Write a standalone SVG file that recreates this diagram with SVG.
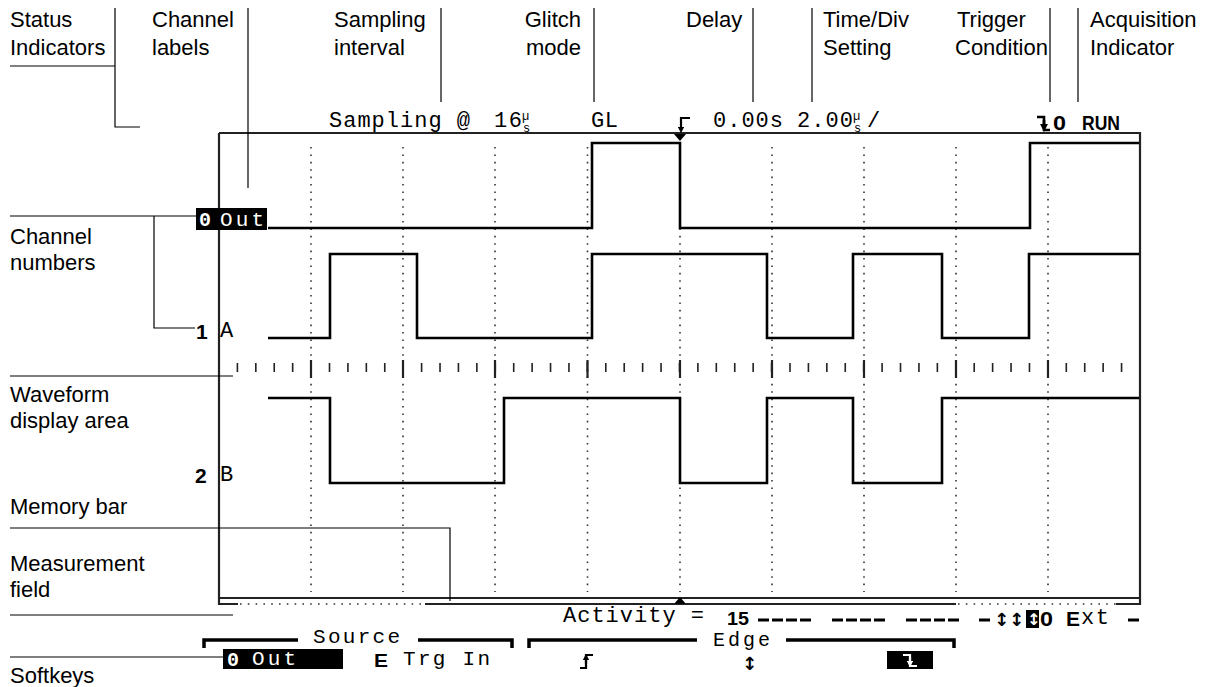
<svg xmlns="http://www.w3.org/2000/svg" width="1212" height="687" viewBox="0 0 1212 687">
<style>
.lbl{font-family:"Liberation Sans",Arial,sans-serif;font-size:22px;fill:#000}
.mono{font-family:"Liberation Mono","DejaVu Sans Mono",monospace;font-size:22px;fill:#000}
.sk{font-family:"Liberation Mono","DejaVu Sans Mono",monospace;font-size:21px;fill:#000}
.monow{font-family:"Liberation Mono","DejaVu Sans Mono",monospace;font-size:21px;fill:#fff}
.tiny{font-family:"Liberation Mono","DejaVu Sans Mono",monospace;font-size:12px;fill:#000}
.bold{font-family:"Liberation Sans",Arial,sans-serif;font-weight:bold;font-size:21px;fill:#000}
.boldw{font-family:"Liberation Mono","DejaVu Sans Mono",monospace;font-weight:bold;font-size:20px;fill:#fff}
.arr{font-family:"DejaVu Sans",sans-serif;font-weight:bold;font-size:18px;fill:#000}
.arrw{font-family:"DejaVu Sans",sans-serif;font-weight:bold;font-size:16px;fill:#fff}
.lead{stroke:#000;stroke-width:1.2;fill:none}
.grid{stroke:#333;stroke-width:1.6;stroke-dasharray:1.6 5.8;fill:none}
.wave{stroke:#000;stroke-width:2.6;fill:none}
.frame{stroke:#222;stroke-width:2.2;fill:none}
.minor{stroke:#222;stroke-width:9;stroke-dasharray:1.6 16.82;fill:none}
.major{stroke:#222;stroke-width:2.2;fill:none}
.brk{stroke:#000;stroke-width:3.5;fill:none}
.sym{stroke:#000;stroke-width:2.2;fill:none}
.wsym{stroke:#fff;stroke-width:2.2;fill:none}
.dash{stroke:#000;stroke-width:3;stroke-dasharray:11 3;fill:none}
</style>
<defs>
<marker id="ah" viewBox="0 0 10 10" refX="5" refY="5" markerWidth="3" markerHeight="3" orient="auto-start-reverse">
<path d="M0 0 L10 5 L0 10 Z" fill="#000"/>
</marker>
<marker id="ahw" viewBox="0 0 10 10" refX="5" refY="5" markerWidth="3" markerHeight="3" orient="auto-start-reverse">
<path d="M0 0 L10 5 L0 10 Z" fill="#fff"/>
</marker>
</defs>

<!-- Display frame, grid, axis -->
<g id="display">
<path class="frame" d="M219 133 H1140 V605 M219 133 V605 M219 598 H1140"/>
<path class="frame" d="M219 604 H238 M425 604 H956 M1116 604 H1140"/>
<path class="grid" d="M240 604 H425 M958 604 H1116" style="stroke-dasharray:1.6 6.2"/>
<path class="grid" d="M311 147 V592 M403 147 V592 M495 147 V592 M587.5 147 V592 M680 147 V592 M772 147 V592 M864 147 V592 M956 147 V592 M1048 147 V592"/>
<path class="minor" d="M236.6 367.5 H1124"/>
<path class="major" d="M311 360 V378 M403 360 V378 M495 360 V378 M587.5 360 V378 M680 360 V378 M772 360 V378 M864 360 V378 M956 360 V378 M1048 360 V378"/>
<polygon points="674,134 686,134 680,141" fill="#000"/>
<polygon points="674,604 686,604 680,597" fill="#000"/>
</g>

<!-- Waveforms -->
<g id="wave-out">
<path class="wave" d="M268 228 H592 V143 H680 V228 H1030 V143 H1139"/>
<rect x="196" y="208" width="71" height="22" fill="#000"/>
<text class="boldw" x="199" y="226">0</text>
<text class="monow" x="220" y="226" textLength="44">Out</text>
</g>
<g id="wave-a">
<path class="wave" d="M268 338 H330 V254 H417 V338 H592 V254 H767 V338 H853 V254 H942 V338 H1029 V254 H1139"/>
<text class="bold" x="196" y="339">1</text>
<text class="mono" x="220" y="337" textLength="15">A</text>
</g>
<g id="wave-b">
<path class="wave" d="M268 398 H330 V483 H504 V398 H680 V483 H767 V398 H853 V483 H942 V398 H1139"/>
<text class="bold" x="195" y="483">2</text>
<text class="mono" x="220" y="481" textLength="15">B</text>
</g>

<!-- Status line -->
<g id="status-line">
<text class="mono" x="329" y="127" textLength="141">Sampling @</text>
<text class="mono" x="494" y="127" textLength="28">16</text>
<text class="tiny" x="522" y="120">µ</text>
<text class="tiny" x="523" y="132">s</text>
<text class="mono" x="591" y="127" textLength="27">GL</text>
<path class="sym" d="M690 118 H681 V130" marker-end="url(#ah)"/>
<text class="mono" x="713" y="127" textLength="70">0.00s</text>
<text class="mono" x="797" y="127" textLength="56">2.00</text>
<text class="tiny" x="853" y="120">µ</text>
<text class="tiny" x="854" y="132">s</text>
<text class="mono" x="867" y="127" textLength="14">/</text>
<path class="sym" style="stroke-width:2.6" d="M1037 117 H1044 V130 H1050"/>
<path class="sym" style="stroke-width:2.6" d="M1044 120 V128" marker-end="url(#ah)"/>
<text class="bold" x="1053" y="130" textLength="13" lengthAdjust="spacingAndGlyphs">0</text>
<text class="bold" x="1082" y="130" textLength="38" lengthAdjust="spacingAndGlyphs">RUN</text>
</g>

<!-- Activity / measurement line -->
<g id="activity-line">
<text class="mono" x="563" y="622" textLength="141">Activity =</text>
<text class="bold" x="727" y="625" textLength="22" lengthAdjust="spacingAndGlyphs" style="font-size:19px">15</text>
<path class="dash" d="M758 620 H814 M832 620 H888 M906 620 H962 M979 620 H990"/>
<text class="arr" x="994" y="626">↕</text>
<text class="arr" x="1009" y="626">↕</text>
<rect x="1026" y="610" width="13" height="18" fill="#000"/>
<text class="arrw" x="1027" y="625">↕</text>
<text class="bold" x="1040" y="626" textLength="13" lengthAdjust="spacingAndGlyphs">0</text>
<text class="bold" x="1066" y="626" textLength="14" lengthAdjust="spacingAndGlyphs">E</text>
<text class="mono" x="1081" y="624" textLength="28">xt</text>
<path class="dash" d="M1128 620 H1139"/>
</g>

<!-- Softkeys -->
<g id="softkeys">
<path class="brk" d="M204 648 V640 H298 M418 640 H512 V648"/>
<text class="sk" x="313" y="643" textLength="87">Source</text>
<path class="brk" d="M529 648 V640 H697 M786 640 H954 V648"/>
<text class="sk" x="713" y="646" textLength="57" style="font-size:20px">Edge</text>
<rect x="223" y="649" width="120" height="20" fill="#000"/>
<text class="boldw" x="227" y="666">0</text>
<text class="monow" x="252" y="665" textLength="44">Out</text>
<text class="bold" x="374" y="667" textLength="14" lengthAdjust="spacingAndGlyphs" style="font-size:19px">E</text>
<text class="sk" x="403" y="665" textLength="87">Trg In</text>
<path class="sym" d="M580 668 H586 V655 H593"/>
<path class="sym" d="M586 664 V657" marker-end="url(#ah)"/>
<text class="arr" x="742" y="670">↕</text>
<rect x="887" y="651" width="46" height="18" fill="#000"/>
<path class="wsym" d="M903 655 H910 V666 H917"/>
<path class="wsym" d="M910 657 V664" marker-end="url(#ahw)"/>
</g>

<!-- Annotation labels -->
<g id="lbl-status"><text class="lbl" x="10" y="27">Status</text><text class="lbl" x="10" y="55">Indicators</text></g>
<g id="lbl-channel-labels"><text class="lbl" x="152" y="27">Channel</text><text class="lbl" x="152" y="55">labels</text></g>
<g id="lbl-sampling"><text class="lbl" x="334" y="27">Sampling</text><text class="lbl" x="334" y="55">interval</text></g>
<g id="lbl-glitch"><text class="lbl" x="581" y="27" text-anchor="end">Glitch</text><text class="lbl" x="581" y="55" text-anchor="end">mode</text></g>
<g id="lbl-delay"><text class="lbl" x="686" y="27">Delay</text></g>
<g id="lbl-timediv"><text class="lbl" x="823" y="27">Time/Div</text><text class="lbl" x="823" y="55">Setting</text></g>
<g id="lbl-trigger"><text class="lbl" x="957" y="27">Trigger</text><text class="lbl" x="955" y="55">Condition</text></g>
<g id="lbl-acq"><text class="lbl" x="1090" y="27">Acquisition</text><text class="lbl" x="1090" y="55">Indicator</text></g>
<g id="lbl-channel-numbers"><text class="lbl" x="10" y="244">Channel</text><text class="lbl" x="10" y="270">numbers</text></g>
<g id="lbl-waveform"><text class="lbl" x="10" y="402">Waveform</text><text class="lbl" x="10" y="428">display area</text></g>
<g id="lbl-memory"><text class="lbl" x="10" y="514">Memory bar</text></g>
<g id="lbl-measurement"><text class="lbl" x="10" y="571">Measurement</text><text class="lbl" x="10" y="597">field</text></g>
<g id="lbl-softkeys"><text class="lbl" x="10" y="683">Softkeys</text></g>

<!-- Leader lines -->
<g id="connectors">
<path class="lead" d="M10 66 H115 V8 M115 66 V127 H140"/>
<path class="lead" d="M248 8 V188"/>
<path class="lead" d="M441 8 V102"/>
<path class="lead" d="M594 8 V102"/>
<path class="lead" d="M753 8 V102"/>
<path class="lead" d="M812 8 V102"/>
<path class="lead" d="M1050 8 V102"/>
<path class="lead" d="M1078 8 V102"/>
<path class="lead" d="M10 216 H196 M154 216 V328 H195"/>
<path class="lead" d="M10 376 H233"/>
<path class="lead" d="M10 528 H450 V601"/>
<path class="lead" d="M10 615 H233"/>
<path class="lead" d="M10 657 H223"/>
</g>
</svg>
